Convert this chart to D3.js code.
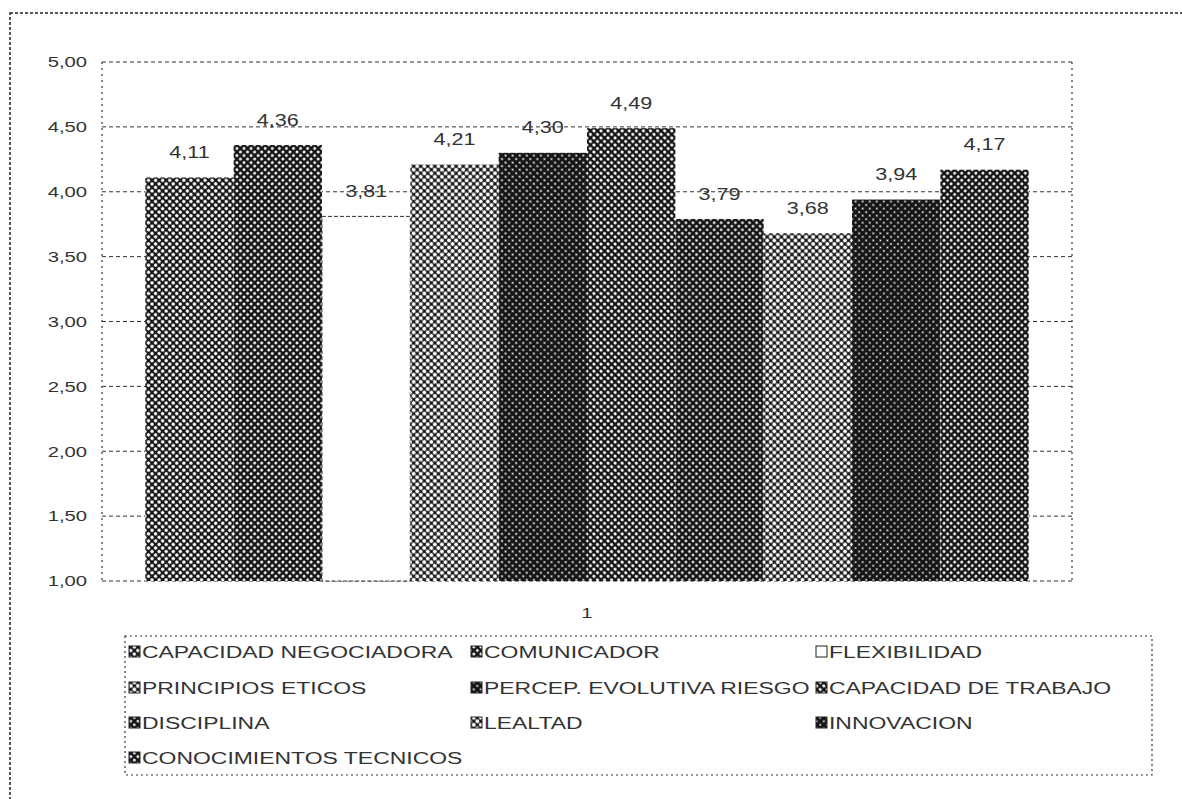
<!DOCTYPE html>
<html>
<head>
<meta charset="utf-8">
<script src="https://cdn.jsdelivr.net/npm/d3@7"></script>
<style>
  body { margin: 0; background: #fff; }
  text { font-family: "Liberation Sans", Arial, sans-serif; fill: #333; }
</style>
</head>
<body>
<div id="chart"></div>
<script>
// series (one bar each, single category "1")
var series = ["CAPACIDAD NEGOCIADORA", "COMUNICADOR", "FLEXIBILIDAD",
  "PRINCIPIOS ETICOS", "PERCEP. EVOLUTIVA RIESGO", "CAPACIDAD DE TRABAJO",
  "DISCIPLINA", "LEALTAD", "INNOVACION", "CONOCIMIENTOS TECNICOS"];
var values = [4.11, 4.36, 3.81, 4.21, 4.30, 4.49, 3.79, 3.68, 3.94, 4.17];
var yTicks = [1, 1.5, 2, 2.5, 3, 3.5, 4, 4.5, 5];
var category = "1";

// halftone look of each bar: white dot radius in a 5px cell, -1 = white bar
var dotRadius = [1.72, 1.4, -1, 2.0, 1.1, 1.6, 1.32, 1.95, 0.98, 1.4];

var W = 1182, H = 799;
var stretch = 1.35; // scanned text is wider than tall
var cell = 5;

var svg = d3.select("#chart").append("svg")
  .attr("width", W).attr("height", H);

var defs = svg.append("defs");
dotRadius.forEach(function(r, i) {
  if (r < 0) return;
  var p = defs.append("pattern")
    .attr("id", "pat" + i)
    .attr("patternUnits", "userSpaceOnUse")
    .attr("width", cell).attr("height", cell)
    .attr("patternTransform", "rotate(45)");
  p.append("rect").attr("width", cell).attr("height", cell).attr("fill", "#151515");
  p.append("circle").attr("cx", cell / 2).attr("cy", cell / 2).attr("r", r).attr("fill", "#fff");
});
function fillOf(i) { return dotRadius[i] < 0 ? "#fff" : "url(#pat" + i + ")"; }

// stretched text helper
function label(sel, x, y, txt, size, anchor) {
  sel.append("g").attr("transform", "translate(" + x + "," + y + ")")
    .append("text")
      .attr("transform", "scale(" + stretch + ",1)")
      .attr("font-size", size)
      .attr("text-anchor", anchor || "start")
      .attr("dy", "0.35em")
      .text(txt);
}

// outer frame
svg.append("rect")
  .attr("x", 10).attr("y", 13).attr("width", W + 20).attr("height", H + 20)
  .attr("fill", "none").attr("stroke", "#222").attr("stroke-width", 1.5)
  .attr("stroke-dasharray", "3,2");

var plot = {left: 102, right: 1072, top: 62, bottom: 581};

var x = d3.scaleBand().domain(series)
  .range([plot.left, plot.right]).paddingInner(0).paddingOuter(0.49);
var y = d3.scaleLinear().domain([1, 5]).range([plot.bottom, plot.top]);

// gridlines
svg.append("g").selectAll("line").data(yTicks).enter().append("line")
  .attr("x1", plot.left).attr("x2", plot.right)
  .attr("y1", function(d) { return y(d); }).attr("y2", function(d) { return y(d); })
  .attr("stroke", "#333").attr("stroke-width", 1)
  .attr("stroke-dasharray", "4,3");

// side borders of the plot
svg.append("g").selectAll("line").data([plot.left, plot.right]).enter().append("line")
  .attr("x1", function(d) { return d; }).attr("x2", function(d) { return d; })
  .attr("y1", plot.top).attr("y2", plot.bottom)
  .attr("stroke", "#333").attr("stroke-width", 1.2)
  .attr("stroke-dasharray", "2,4");

// y tick labels
var tickFmt = function(d) { return d3.format(".2f")(d).replace(".", ","); };
var yl = svg.append("g");
yTicks.forEach(function(t) { label(yl, 87, y(t), tickFmt(t), 15, "end"); });

// bars
svg.append("g").selectAll("rect").data(values).enter().append("rect")
  .attr("x", function(d, i) { return x(series[i]); })
  .attr("width", x.bandwidth())
  .attr("y", function(d) { return y(d); })
  .attr("height", function(d) { return y(1) - y(d); })
  .attr("fill", function(d, i) { return fillOf(i); })
  .attr("stroke", function(d, i) { return dotRadius[i] < 0 ? "#333" : "none"; })
  .attr("stroke-dasharray", function(d, i) { return dotRadius[i] < 0 ? "4,2" : null; });

// value labels
var vl = svg.append("g");
values.forEach(function(v, i) {
  label(vl, x(series[i]) + x.bandwidth() / 2, y(v) - 25, tickFmt(v), 16, "middle");
});

// category label
label(svg, (plot.left + plot.right) / 2, 613, category, 15, "middle");

// legend
var leg = {left: 125, top: 636, right: 1152, bottom: 775};
svg.append("rect")
  .attr("x", leg.left).attr("y", leg.top)
  .attr("width", leg.right - leg.left).attr("height", leg.bottom - leg.top)
  .attr("fill", "none").attr("stroke", "#333").attr("stroke-width", 1.2)
  .attr("stroke-dasharray", "2,3");

var colX = [129, 471, 816], rowY = [652, 688, 723, 758];
var lg = svg.append("g");
series.forEach(function(s, i) {
  var cx = colX[i % 3], cy = rowY[Math.floor(i / 3)];
  lg.append("rect")
    .attr("x", cx).attr("y", cy - 6).attr("width", 11).attr("height", 11)
    .attr("fill", fillOf(i)).attr("stroke", "#222").attr("stroke-width", 1);
  label(lg, cx + 13, cy, s, 17, "start");
});
</script>
</body>
</html>
